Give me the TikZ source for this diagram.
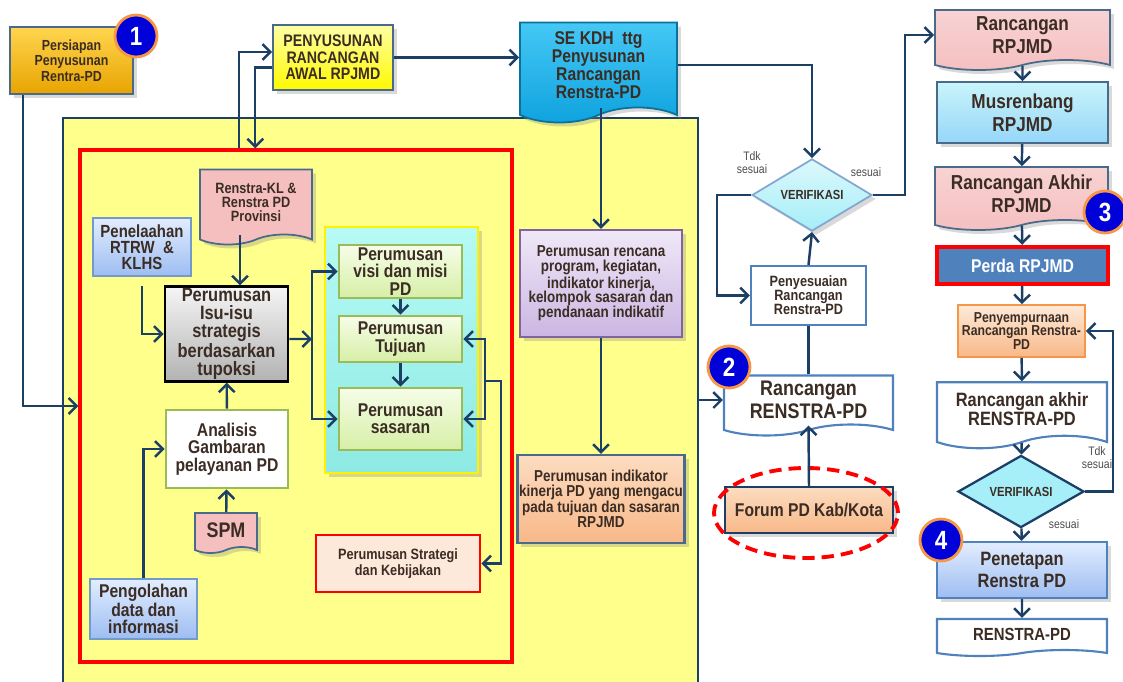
\documentclass[tikz,border=0pt]{standalone}
\usepackage{fontspec}
\setmainfont{Liberation Sans}[FakeStretch=0.85]
\usetikzlibrary{arrows.meta,shapes.geometric,shapes.symbols,shadows,positioning}

\definecolor{navy}{HTML}{1C3F66}
\definecolor{ink}{HTML}{3B2C24}
\definecolor{kuning}{HTML}{FFFF8C}
\definecolor{slate}{HTML}{4A6A8A}
\definecolor{biru}{HTML}{4F81BD}
\definecolor{hijau}{HTML}{9BBB59}
\definecolor{oranye}{HTML}{F79646}
\definecolor{merahmuda}{HTML}{F5BFC0}
\definecolor{ungu}{HTML}{8064A2}
\definecolor{emasA}{HTML}{FFD54F}
\definecolor{emasB}{HTML}{E8A400}
\definecolor{langitA}{HTML}{45C8F5}
\definecolor{langitB}{HTML}{0EA2DE}
\definecolor{toscaA}{HTML}{B6FAF4}
\definecolor{toscaB}{HTML}{8EEAE4}
\definecolor{daunA}{HTML}{F6FDE8}
\definecolor{daunB}{HTML}{D6EFA6}
\definecolor{birumudaA}{HTML}{E2EDFF}
\definecolor{birumudaB}{HTML}{9DBDF2}
\definecolor{persik}{HTML}{FDE9D9}
\definecolor{unguA}{HTML}{F0E8F8}
\definecolor{unguB}{HTML}{CBB6E2}
\definecolor{jinggaA}{HTML}{FCDCC0}
\definecolor{jinggaB}{HTML}{F8B888}
\definecolor{es}{HTML}{A6EEF8}

\tikzset{
  box/.style={draw, align=center, text=ink, inner sep=1pt, line width=1pt},
  fnt/.style 2 args={font=\fontsize{#1}{#2}\selectfont\bfseries},
  doc/.style={box, tape, tape bend top=none, tape bend bottom=in and out, tape bend height=0.2cm},
  shd/.style={drop shadow={opacity=0.3,shadow xshift=0.08cm,shadow yshift=-0.08cm}},
  arr/.style={draw=navy, line width=1.4pt, -{Straight Barb[length=4.5pt,width=9pt]}},
  garis/.style={draw=navy, line width=1.4pt},
  verif/.style={box, diamond, inner sep=0pt, fnt={7.5}{8}},
  badge/.style={circle, draw=oranye, line width=1.6pt, fill=blue!85!black, text=white, minimum size=0.84cm, inner sep=0pt, fnt={15}{15}},
  lbl/.style={align=center, text=black!70, font=\fontsize{7}{7.5}\selectfont}
}

\begin{document}
\begin{tikzpicture}[x=0.02cm,y=-0.02cm]
\useasboundingbox (0,0) rectangle (1123,681);

% area kerja Renstra-PD
\node[draw=navy, line width=1pt, fill=kuning, minimum width=12.7cm, minimum height=11.64cm] (kerja) at (380.5,409) {};
\node[draw=red, line width=2pt, minimum width=8.64cm, minimum height=10.24cm] (isi) at (296,406) {};
\node[draw=yellow, line width=1.5pt, top color=toscaA, bottom color=toscaB, minimum width=3.06cm, minimum height=4.92cm, shd] (panel) at (401.5,350) {};

% tahap awal
\node[box, shd, fnt={8.3}{8.8}, draw=slate, top color=emasA, bottom color=emasB, minimum width=2.46cm, minimum height=1.34cm] (siap) at (71.5,60.5) {Persiapan\\Penyusunan\\Rentra-PD};
\node[box, shd, fnt={9.5}{9.3}, draw=slate, top color=yellow!35, bottom color=yellow!95!orange, minimum width=2.4cm, minimum height=1.3cm] (awal) at (333,57.5) {PENYUSUNAN\\RANCANGAN\\AWAL RPJMD};
\node[doc, shd, fnt={10.5}{10.3}, draw=langitB!70!black, top color=langitA, bottom color=langitB, minimum width=3.14cm, minimum height=2cm, tape bend height=0.3cm] (sekdh) at (598.5,65) {SE KDH\ \ ttg\\Penyusunan\\Rancangan\\Renstra-PD};

% isi kotak merah
\node[doc, shd, fnt={8.5}{8}, draw=slate, fill=merahmuda, minimum width=2.24cm, minimum height=1.5cm] (kl) at (256,202) {Renstra-KL \&\\Renstra PD\\Provinsi};
\node[box, fnt={10}{9}, draw=biru!80, top color=birumudaA, bottom color=birumudaB, minimum width=1.96cm, minimum height=1.16cm] (telaah) at (142,247) {Penelaahan\\RTRW\ \ \&\\KLHS};
\node[box, fnt={11}{10.2}, draw=black, line width=1.5pt, top color=gray!8, bottom color=gray!60, minimum width=2.46cm, minimum height=1.84cm] (isu) at (226.5,334) {Perumusan\\Isu-isu\\strategis\\berdasarkan\\tupoksi};
\node[box, fnt={10.5}{9.9}, draw=hijau, line width=1.5pt, fill=white, minimum width=2.44cm, minimum height=1.56cm] (analisis) at (227,449) {Analisis\\Gambaran\\pelayanan PD};
\node[doc, shd, fnt={12}{12}, draw=slate, fill=merahmuda, minimum width=1.24cm, minimum height=0.8cm, tape bend height=0.12cm] (spm) at (226,530) {SPM};
\node[box, fnt={10.5}{9.7}, draw=biru!80, top color=birumudaA, bottom color=birumudaB, minimum width=2.14cm, minimum height=1.2cm] (olah) at (143.5,609) {Pengolahan\\data dan\\informasi};
\node[box, fnt={10.5}{9.9}, draw=hijau, line width=1.5pt, top color=daunA, bottom color=daunB, minimum width=2.46cm, minimum height=1.06cm] (visi) at (400.5,271.5) {Perumusan\\visi dan misi\\PD};
\node[box, fnt={10.5}{9.9}, draw=hijau, line width=1.5pt, top color=daunA, bottom color=daunB, minimum width=2.46cm, minimum height=0.92cm] (tujuan) at (400.5,339) {Perumusan\\Tujuan};
\node[box, fnt={10.5}{9.9}, draw=hijau, line width=1.5pt, top color=daunA, bottom color=daunB, minimum width=2.46cm, minimum height=1.24cm] (sasaran) at (400.5,419) {Perumusan\\sasaran};
\node[box, fnt={8.5}{7.6}, draw=red, line width=1.5pt, fill=persik, minimum width=3.28cm, minimum height=1.14cm] (strategi) at (398,563.5) {Perumusan Strategi\\dan Kebijakan};

% kolom tengah
\node[box, shd, fnt={9}{8.4}, draw=ungu, line width=1.3pt, top color=unguA, bottom color=unguB, minimum width=3.24cm, minimum height=2.14cm] (rencana) at (601,283.5) {Perumusan rencana\\program, kegiatan,\\indikator kinerja,\\kelompok sasaran dan\\pendanaan indikatif};
\node[box, shd, fnt={9}{8.4}, draw=slate, line width=1.3pt, top color=jinggaA, bottom color=jinggaB, minimum width=3.24cm, minimum height=1.76cm] (indikator) at (601,499) {Perumusan indikator\\kinerja PD yang mengacu\\pada tujuan dan sasaran\\RPJMD};
\node[verif, shd, draw=biru!70, top color=es!40, bottom color=es, minimum width=2.4cm, minimum height=1.16cm] (verif1) at (812,195) {VERIFIKASI};
\node[box, fnt={8.5}{8}, draw=biru, line width=1.3pt, fill=white, minimum width=2.3cm, minimum height=1.18cm] (penyesuaian) at (808.5,295.5) {Penyesuaian\\Rancangan\\Renstra-PD};
\node[doc, fnt={12}{13}, draw=biru, line width=1.2pt, fill=white, minimum width=3.38cm, minimum height=1.2cm, tape bend height=0.22cm] (renstra) at (808.5,400) {Rancangan\\RENSTRA-PD};
\node[box, shd, fnt={10.5}{10.5}, draw=navy, line width=1.3pt, top color=jinggaA, bottom color=jinggaB, minimum width=3.36cm, minimum height=0.92cm] (forum) at (809,510) {Forum PD Kab/Kota};
\node[draw=red, ellipse, line width=2.2pt, dash pattern=on 7pt off 4pt, minimum width=3.68cm, minimum height=1.8cm] (sorot) at (806,513) {};
\node[lbl] (tdk1) at (752,163) {Tdk\\sesuai};
\node[lbl] (ya1) at (866,172) {sesuai};

% kolom kanan
\node[doc, shd, fnt={11.5}{13}, draw=slate, top color=merahmuda!70, bottom color=merahmuda, minimum width=3.5cm, minimum height=1.2cm] (rrpjmd) at (1022.5,35) {Rancangan\\RPJMD};
\node[box, shd, fnt={11.5}{13}, draw=slate, top color=es!60, bottom color=es!90!blue, minimum width=3.42cm, minimum height=1.22cm] (musren) at (1022.5,112.5) {Musrenbang\\RPJMD};
\node[doc, shd, fnt={11.5}{13}, draw=slate, top color=merahmuda!70, bottom color=merahmuda, minimum width=3.46cm, minimum height=1.26cm] (rakhir) at (1021.5,193.5) {Rancangan Akhir\\RPJMD};
\node[box, fnt={10.5}{10.5}, draw=red, line width=2.5pt, fill=biru, text=white, minimum width=3.42cm, minimum height=0.74cm] (perda) at (1022.5,265.5) {Perda RPJMD};
\node[box, fnt={8.2}{7.8}, draw=oranye, top color=jinggaA!60, bottom color=jinggaB, minimum width=2.54cm, minimum height=1.04cm] (sempurna) at (1021.5,331) {Penyempurnaan\\Rancangan Renstra-\\PD};
\node[doc, fnt={11}{10.5}, draw=biru, line width=1.2pt, fill=white, minimum width=3.4cm, minimum height=1.32cm, tape bend height=0.25cm] (rakhirpd) at (1022,409) {Rancangan akhir\\RENSTRA-PD};
\node[verif, draw=navy, line width=1.3pt, fill=es, minimum width=2.52cm, minimum height=1.14cm] (verif2) at (1021,491.5) {VERIFIKASI};
\node[box, shd, fnt={11}{12.6}, draw=biru, line width=1.3pt, top color=birumudaA, bottom color=birumudaB, minimum width=3.4cm, minimum height=1.12cm] (tetap) at (1022,570) {Penetapan\\Renstra PD};
\node[doc, fnt={10}{10}, draw=biru, line width=1.2pt, fill=white, minimum width=3.4cm, minimum height=0.74cm, tape bend height=0.12cm] (final) at (1022,634.5) {RENSTRA-PD};
\node[lbl] (tdk2) at (1097,458) {Tdk\\sesuai};
\node[lbl] (ya2) at (1064,524) {sesuai};

% penghubung
\draw[arr] ([xshift=0.28cm]siap.south west) |- (isi.west);
\draw[arr] ([xshift=3.22cm]isi.north west) |- ([yshift=0.11cm]awal.west);
\draw[arr] ([yshift=-0.2cm]awal.west) -| ([xshift=3.54cm]isi.north west);
\draw[arr] (awal.east) -- (awal.east -| sekdh.west);
\draw[arr] (sekdh.east) -| (verif1.north);
\draw[arr] (rencana.north |- sekdh.south) -- (rencana.north);
\draw[arr] (rencana) -- (indikator);
\draw[arr] (kerja.east |- renstra.west) -- (renstra.west);

\draw[arr] ([xshift=0.27cm]isu.north |- kl.south) -- ([xshift=0.27cm]isu.north);
\draw[arr] ([yshift=-0.18cm]telaah.south) |- (isu.west);
\draw[arr] (analisis) -- (isu);
\draw[arr] (spm) -- (analisis);
\draw[arr] (olah.north) |- (analisis.west);
\coordinate (j1) at (312,339);
\coordinate (j2) at (485,381);
\draw[arr] ([yshift=-0.1cm]isu.east) -- (j1);
\draw[arr] (j1) |- (visi.west);
\draw[arr] (j1) |- (sasaran.west);
\draw[arr] (visi) -- (tujuan);
\draw[arr] (tujuan) -- (sasaran);
\draw[arr] (j2) |- (tujuan.east);
\draw[arr] (j2) |- (sasaran.east);
\draw[arr] (j2) -- ++(16,0) |- (strategi.east);

\draw[arr] (forum.north) -- (renstra.south);
\draw[garis] (renstra.north) -- (penyesuaian.south);
\draw[arr] (penyesuaian.north) -- (verif1.south);
\draw[arr] (verif1.west) -- ++(-34,0) |- (penyesuaian.west);
\draw[arr] (verif1.east) -- ++(32,0) |- (rrpjmd.west);

\path[arr] (rrpjmd) edge (musren)
  (musren) edge (rakhir)
  (rakhir) edge (perda)
  (perda) edge (sempurna)
  (sempurna) edge (rakhirpd)
  (rakhirpd) edge (verif2)
  (verif2) edge (tetap)
  (tetap) edge (final);
\draw[arr] (verif2.east) -- ++(28,0) |- (sempurna.east);

% nomor tahap
\node[badge] (n1) at (136,36) {1};
\node[badge] (n2) at (729,367) {2};
\node[badge] (n3) at (1105,212) {3};
\node[badge] (n4) at (941,540) {4};
\end{tikzpicture}
\end{document}
